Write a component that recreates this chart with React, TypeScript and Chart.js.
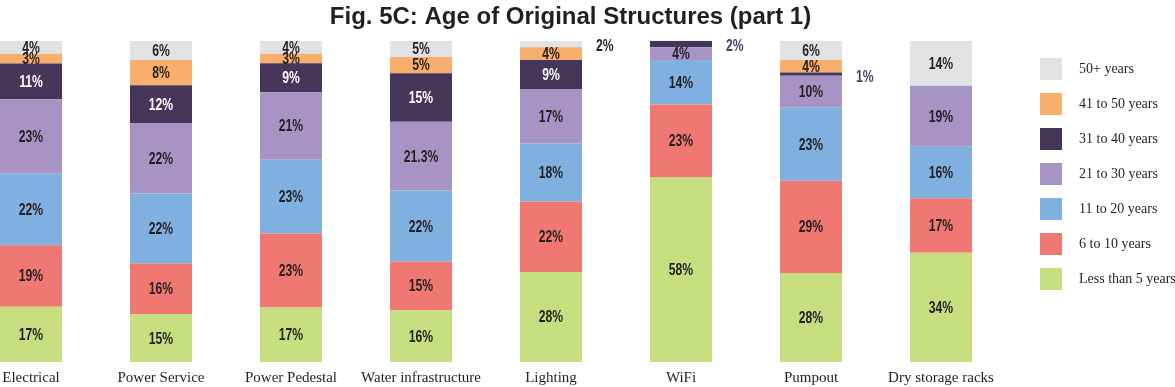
import React, { useEffect, useRef } from "react";
import { Chart, registerables } from "chart.js";
Chart.register(...registerables);

const titleText = "Fig. 5C: Age of Original Structures (part 1)";
const categories = [
  "Electrical",
  "Power Service",
  "Power Pedestal",
  "Water infrastructure",
  "Lighting",
  "WiFi",
  "Pumpout",
  "Dry storage racks",
];
const seriesNames = [
  "Less than 5 years",
  "6 to 10 years",
  "11 to 20 years",
  "21 to 30 years",
  "31 to 40 years",
  "41 to 50 years",
  "50+ years",
];
const lessThan5 = [17, 15, 17, 16, 28, 58, 28, 34];
const sixTo10 = [19, 16, 23, 15, 22, 23, 29, 17];
const elevenTo20 = [22, 22, 23, 22, 18, 14, 23, 16];
const twentyOneTo30 = [23, 22, 21, 21.3, 17, 4, 10, 19];
const thirtyOneTo40 = [11, 12, 9, 15, 9, 2, 1, 0];
const fortyOneTo50 = [3, 8, 3, 5, 4, 0, 4, 0];
const fiftyPlus = [4, 6, 4, 5, 2, 0, 6, 14];
const seriesColors = ["#C7DE80", "#EF7872", "#7FB0E0", "#A893C5", "#45365A", "#F8AE6C", "#E1E2E3"];

const seriesValues = [lessThan5, sixTo10, elevenTo20, twentyOneTo30, thirtyOneTo40, fortyOneTo50, fiftyPlus];

const TEXT = "#231F20";
const NARROW = "'Liberation Sans Narrow', 'Liberation Sans', sans-serif";
const LABEL_FONT = "bold 16px " + NARROW;
const SERIF = "'Liberation Serif', serif";
const SQUEEZE = 0.76;

const valueLabels = {
  id: "valueLabels",
  afterDatasetsDraw(chart: any) {
    const ctx = chart.ctx;
    ctx.save();
    ctx.font = LABEL_FONT;
    ctx.textBaseline = "middle";
    chart.data.datasets.forEach((ds: any, di: number) => {
      const meta = chart.getDatasetMeta(di);
      meta.data.forEach((el: any, i: number) => {
        const v = seriesValues[di][i];
        if (!v) return;
        const txt = v + "%";
        let cy = (el.y + el.base) / 2 + 1;
        let x: number;
        if (v <= 2) {
          ctx.textAlign = "left";
          ctx.fillStyle = di === 6 ? TEXT : "#4A3F63";
          x = el.x + el.width / 2 + 14;
          cy += 2;
        } else {
          ctx.textAlign = "center";
          ctx.fillStyle = di === 4 ? "#FFFFFF" : TEXT;
          x = el.x;
        }
        ctx.save();
        ctx.translate(x, cy);
        ctx.scale(SQUEEZE, 1);
        ctx.fillText(txt, 0, 0);
        ctx.restore();
      });
    });
    ctx.restore();
  },
};

const sideLegend = {
  id: "sideLegend",
  afterDraw(chart: any) {
    const ctx = chart.ctx;
    const x0 = chart.chartArea.right + 34;
    ctx.save();
    ctx.font = "14px " + SERIF;
    ctx.textBaseline = "middle";
    ctx.textAlign = "left";
    for (let k = 0; k < seriesNames.length; k++) {
      const di = seriesNames.length - 1 - k;
      const y = 58 + k * 35;
      ctx.fillStyle = seriesColors[di];
      ctx.fillRect(x0, y, 22, 22);
      ctx.fillStyle = TEXT;
      ctx.fillText(seriesNames[di], x0 + 39, y + 11);
    }
    ctx.restore();
  },
};

export default function App() {
  const ref = useRef<HTMLCanvasElement | null>(null);
  useEffect(() => {
    if (!ref.current) return;
    const totals = categories.map((_, i) => seriesValues.reduce((s, arr) => s + arr[i], 0));
    const chart = new Chart(ref.current, {
      type: "bar",
      data: {
        labels: categories,
        datasets: seriesNames.map((name, di) => ({
          label: name,
          data: seriesValues[di].map((v, i) => (v / totals[i]) * 100),
          backgroundColor: seriesColors[di],
          borderWidth: 0,
          categoryPercentage: 1,
          barPercentage: 0.477,
        })),
      },
      options: {
        responsive: false,
        animation: false,
        events: [],
        layout: { padding: 0 },
        plugins: {
          legend: { display: false },
          tooltip: { enabled: false },
          title: {
            display: true,
            text: titleText,
            color: TEXT,
            font: { family: NARROW, size: 24, weight: "bold" },
            padding: { top: 3, bottom: 9 },
          },
        },
        scales: {
          x: {
            stacked: true,
            grid: { display: false, drawTicks: false, tickLength: 0 },
            border: { display: false },
            ticks: { color: TEXT, font: { family: SERIF, size: 15 }, padding: 7, maxRotation: 0, autoSkip: false },
            afterFit: (s: any) => {
              s.height = 25;
            },
          },
          y: {
            stacked: true,
            min: 0,
            max: 100,
            position: "right",
            grid: { display: false, drawTicks: false, tickLength: 0 },
            border: { display: false },
            ticks: { display: false },
            afterFit: (s: any) => {
              s.width = 169;
            },
          },
        },
      },
      plugins: [valueLabels, sideLegend],
    });
    return () => chart.destroy();
  }, []);
  return (
    <div style={{ position: "fixed", left: -34, top: 0, width: 1209, height: 387, background: "#fff" }}>
      <canvas ref={ref} width={1209} height={387} style={{ display: "block" }} />
    </div>
  );
}
